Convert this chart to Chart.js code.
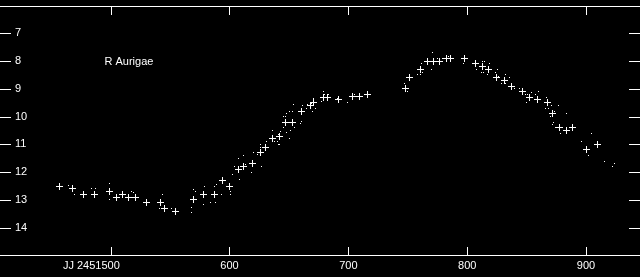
<!DOCTYPE html>
<html>
<head>
<meta charset="utf-8">
<script src="https://cdn.jsdelivr.net/npm/chart.js@4/dist/chart.umd.min.js"></script>
<style>
  html, body { margin: 0; padding: 0; background: #000; }
  canvas { display: block; }
</style>
</head>
<body>
<canvas id="mychart" width="640" height="277"></canvas>
<script>
// mean magnitudes (crosses)
const meanDays = [457.1, 468.1, 477.0, 486.3, 499.3, 504.5, 509.9, 515.1, 520.9, 529.8,
    541.6, 545.7, 554.2, 569.7, 578.0, 587.0, 593.9, 600.2, 607.2, 611.4,
    619.3, 625.9, 630.4, 635.8, 641.9, 646.9, 652.7, 661.0, 668.1, 670.6,
    678.9, 682.2, 691.6, 703.2, 709.0, 716.1, 748.4, 751.8, 760.9, 766.2,
    771.4, 776.6, 782.7, 786.3, 797.9, 807.2, 813.0, 818.0, 824.6, 831.3,
    837.1, 846.2, 852.3, 858.9, 867.2, 872.2, 877.6, 883.4, 888.4, 900.0, 909.9]
const meanMags = [12.50, 12.58, 12.79, 12.79, 12.68, 12.91, 12.79, 12.91, 12.91, 13.08,
    13.08, 13.30, 13.41, 12.98, 12.79, 12.79, 12.29, 12.52, 11.89, 11.80,
    11.70, 11.29, 11.11, 10.78, 10.71, 10.20, 10.20, 9.81, 9.59, 9.48,
    9.30, 9.30, 9.38, 9.29, 9.29, 9.20, 8.98, 8.58, 8.30, 8.01,
    8.00, 8.01, 7.90, 7.90, 7.90, 8.08, 8.19, 8.30, 8.58, 8.69,
    8.92, 9.09, 9.30, 9.39, 9.48, 9.88, 10.38, 10.49, 10.38, 11.18, 11.00]

// single observations (dots)
const obsDays = [464.7, 469.4, 483.8, 487.6, 498.7, 498.7, 517.7, 519.6, 543.4, 540.9,
    551.3, 568.2, 568.2, 570.1, 571.0, 578.2, 578.8, 584.0, 588.1, 587.3,
    588.9, 593.1, 601.0, 601.0, 602.2, 604.3, 605.2, 607.7, 608.5, 612.1,
    613.8, 618.8, 620.1, 623.7, 626.5, 626.5, 627.0, 631.2, 635.8, 638.1,
    640.5, 641.4, 642.4, 643.0, 641.6, 645.3, 645.8, 647.2, 648.0, 648.0,
    651.3, 650.7, 650.7, 653.2, 653.5, 654.9, 659.6, 660.4, 661.2, 664.6,
    665.6, 669.3, 670.6, 670.1, 672.3, 677.6, 679.2, 680.3, 683.0, 690.8,
    699.6, 703.5, 705.1, 747.1, 749.6, 758.4, 760.9, 761.7, 762.5, 770.0,
    770.8, 775.3, 779.1, 784.4, 796.8, 807.6, 813.0, 814.7, 812.2, 813.9,
    818.8, 816.9, 823.6, 824.6, 825.5, 826.3, 828.8, 832.1, 832.3, 835.4,
    839.5, 843.7, 848.7, 851.1, 853.9, 860.2, 850.2, 854.5, 857.8, 866.6,
    865.8, 868.5, 871.3, 876.8, 870.2, 873.5, 872.7, 871.6, 883.4, 874.3,
    878.2, 905.0, 895.9, 901.7, 915.7, 922.4, 924.0]
const obsMags = [12.49, 12.79, 12.58, 12.58, 12.40, 12.98, 12.69, 12.73, 12.80, 13.30,
    13.30, 13.28, 13.46, 12.61, 12.71, 13.17, 12.50, 13.09, 13.09, 12.50,
    12.43, 12.80, 12.70, 12.80, 12.08, 11.80, 11.92, 11.52, 12.26, 11.41,
    11.74, 12.02, 11.29, 11.38, 10.99, 11.11, 11.80, 10.90, 10.51, 10.89,
    10.89, 11.00, 11.00, 10.54, 10.63, 10.38, 10.00, 10.00, 9.88, 10.58,
    10.49, 10.80, 9.81, 9.81, 9.58, 10.40, 10.24, 10.19, 9.61, 9.72,
    9.56, 9.52, 9.34, 9.83, 9.69, 9.47, 9.09, 9.20, 9.20, 9.33,
    9.48, 9.20, 9.20, 8.80, 9.10, 8.48, 8.48, 8.08, 8.40, 8.30,
    7.68, 7.90, 7.90, 7.84, 8.08, 8.30, 8.02, 8.02, 8.40, 8.40,
    8.08, 8.48, 8.40, 8.48, 8.30, 8.56, 8.80, 8.80, 8.48, 8.58,
    8.98, 8.98, 9.20, 9.20, 9.12, 9.09, 9.48, 9.30, 9.20, 9.30,
    9.70, 9.70, 9.59, 9.59, 9.98, 9.83, 10.22, 10.27, 9.88, 10.38,
    10.60, 10.60, 10.89, 11.39, 11.61, 11.79, 11.68]

const xTicks = [500, 600, 700, 800, 900]
const xTickLabels = ['JJ 2451500', '600', '700', '800', '900']
const yTicks = [7, 8, 9, 10, 11, 12, 13, 14]
const yTickLabels = ['7', '8', '9', '10', '11', '12', '13', '14']
const starName = 'R Aurigae'

const FONT = '11px "Liberation Sans", Arial, sans-serif'

// little bitmaps for the markers, drawn without smoothing so they stay crisp
const crossImg = document.createElement('canvas')
crossImg.width = 7
crossImg.height = 7
let c = crossImg.getContext('2d')
c.fillStyle = '#ffffff'
c.fillRect(3, 0, 1, 7)
c.fillRect(0, 3, 7, 1)

const dotImg = document.createElement('canvas')
dotImg.width = 1
dotImg.height = 1
c = dotImg.getContext('2d')
c.fillStyle = '#ffffff'
c.fillRect(0, 0, 1, 1)

const framePlugin = {
    id: 'frame',
    beforeDraw(chart) {
        const g = chart.ctx
        g.save()
        g.fillStyle = '#000000'
        g.fillRect(0, 0, chart.width, chart.height)
        g.restore()
    },
    beforeDatasetsDraw(chart) {
        chart.ctx.imageSmoothingEnabled = false
    },
    afterDraw(chart) {
        const g = chart.ctx
        const xs = chart.scales.x
        const ys = chart.scales.y
        g.save()
        g.fillStyle = '#ffffff'
        // top and bottom border
        g.fillRect(0, 6, chart.width, 1)
        g.fillRect(0, 255, chart.width, 1)
        // x ticks, pointing inward
        xTicks.forEach(v => {
            const px = Math.round(xs.getPixelForValue(v))
            g.fillRect(px, 7, 1, 8)
            g.fillRect(px, 247, 1, 8)
        })
        // y ticks on both sides
        yTicks.forEach(v => {
            const py = Math.round(ys.getPixelForValue(v))
            g.fillRect(0, py, 11, 1)
            g.fillRect(629, py, 11, 1)
        })
        g.font = FONT
        g.textBaseline = 'middle'
        // y labels inside the plot
        g.textAlign = 'left'
        yTicks.forEach((v, i) => {
            g.fillText(yTickLabels[i], 15, ys.getPixelForValue(v))
        })
        // x labels below; last three digits centred on the tick
        g.textAlign = 'right'
        xTicks.forEach((v, i) => {
            const lab = xTickLabels[i]
            const half = g.measureText(lab.slice(-3)).width / 2
            g.fillText(lab, xs.getPixelForValue(v) + half, 266)
        })
        g.textAlign = 'left'
        g.fillText(starName, 104.5, 61.5)
        g.restore()
    }
}

const ctx = document.getElementById('mychart')
var chart = new Chart(ctx, {
    type: 'scatter',
    data: {
        datasets: [
            {
                label: 'mean',
                data: meanDays.map((d, i) => ({x: d, y: meanMags[i]})),
                pointStyle: crossImg,
                pointRadius: 3,
            },
            {
                label: 'obs',
                data: obsDays.map((d, i) => ({x: d, y: obsMags[i]})),
                pointStyle: dotImg,
                pointRadius: 1,
            },
        ],
    },
    options: {
        responsive: false,
        animation: false,
        devicePixelRatio: 1,
        events: [],
        layout: {
            padding: {
                top: 5.5,
                bottom: 21.5,
                left: 0,
                right: 0
            },
        },
        scales: {
            x: {
                type: 'linear',
                min: 411.1,
                max: 941.2,
                display: false,
            },
            y: {
                min: 6,
                max: 15,
                reverse: true,
                display: false,
            }
        },
        plugins: {
            legend: {
                display: false,
            },
            tooltip: {
                enabled: false,
            },
        },
    },
    plugins: [framePlugin]
});
</script>
</body>
</html>
